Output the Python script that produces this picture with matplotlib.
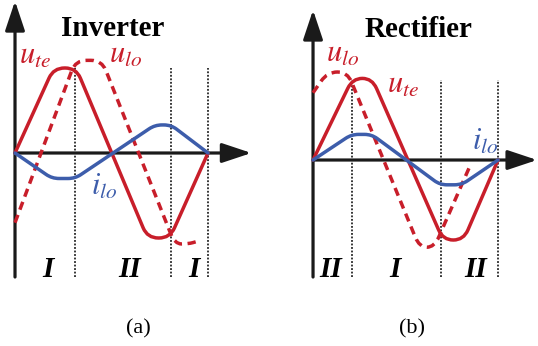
import numpy as np
import matplotlib
matplotlib.use("Agg")
import matplotlib.pyplot as plt
from matplotlib.path import Path
from matplotlib.patches import PathPatch

# phase in electrical degrees, values in per-unit
# (a) inverter
inv_ph_ute = [0, 72, 114, 247, 289, 360]
inv_ute = [0, 1.0, 1.0, -1.0, -1.0, 0]
inv_ph_ulo = [0, 113, 162, 298, 323, 340]
inv_ulo = [-0.82, 1.09, 1.09, -1.07, -1.07, -1.04]
inv_ph_ilo = [0, 69, 112, 261, 291, 360]
inv_ilo = [0, -0.30, -0.30, 0.33, 0.33, 0]
inv_bounds = [112, 291, 360]
inv_regions = ["I", "II", "I"]
inv_region_ph = [62, 214, 334]

# (b) rectifier
rec_ph_ute = [0, 77, 115, 253, 293, 360]
rec_ute = [0, 1.02, 1.02, -1.0, -1.0, 0]
rec_ph_ulo = [0, 28, 67, 207, 236, 305]
rec_ulo = [0.84, 1.10, 1.10, -1.09, -1.09, -0.08]
rec_ph_ilo = [0, 75, 114, 247, 289, 360]
rec_ilo = [0, 0.32, 0.32, -0.31, -0.31, 0]
rec_bounds = [76, 249, 360]
rec_regions = ["II", "I", "II"]
rec_region_ph = [35, 160, 317]

RED = "#c81e2a"
BLUE = "#3d5dab"
AXC = "#1a1a1a"

plt.rcParams["font.family"] = ["Liberation Serif", "DejaVu Serif"]
plt.rcParams["mathtext.fontset"] = "stix"

fig = plt.figure(figsize=(5.38, 3.46), dpi=100)
ax_a = fig.add_axes([0, 0.1618, 0.5, 0.8382])
ax_b = fig.add_axes([0.5019, 0.1618, 0.4981, 0.8382])
ax_a.set_xlim(-28, 473.8)
ax_a.set_ylim(-1.612, 1.8)
ax_b.set_xlim(-83.7, 437.8)
ax_b.set_ylim(-1.625, 2.0)


def rounded(ax, xs, ys, r):
    # polyline with corners rounded by quadratic curves (r in pixels)
    pts = ax.transData.transform(np.column_stack([xs, ys]))
    verts = [pts[0]]
    codes = [Path.MOVETO]
    for i in range(1, len(pts) - 1):
        p, c, n = pts[i - 1], pts[i], pts[i + 1]
        d1 = np.hypot(*(c - p))
        d2 = np.hypot(*(n - c))
        a = c + (p - c) * min(r, d1 / 2) / d1
        b = c + (n - c) * min(r, d2 / 2) / d2
        verts += [a, c, b]
        codes += [Path.LINETO, Path.CURVE3, Path.CURVE3]
    verts.append(pts[-1])
    codes.append(Path.LINETO)
    verts = ax.transData.inverted().transform(np.array(verts))
    return Path(verts, codes)


def panel(ax, ute, ulo, ilo, bounds, regions, region_ph, ymin, ytop, xtip,
          title, title_xy, lbl):
    ax.axis("off")
    for b in bounds:
        ax.plot([b, b], [ymin, 1.0], color="black", lw=1.1,
                linestyle=(0, (1.2, 1.1)), zorder=1)
    # axes arrows
    arr = dict(arrowstyle="-|>,head_length=0.9,head_width=0.3",
               mutation_scale=20, lw=2.3, color=AXC, shrinkA=0, shrinkB=0)
    ax.annotate("", xy=(0, ytop), xytext=(0, ymin), arrowprops=arr, zorder=2)
    ax.annotate("", xy=(xtip, 0), xytext=(0, 0), arrowprops=arr, zorder=2)

    ax.add_patch(PathPatch(rounded(ax, *ute, 11), fill=False, ec=RED, lw=2.5,
                           capstyle="round", joinstyle="round", zorder=3))
    ax.add_patch(PathPatch(rounded(ax, *ulo, 11), fill=False, ec=RED, lw=2.5,
                           linestyle=(0, (2.4, 1.6)), capstyle="butt",
                           joinstyle="round", zorder=3))
    ax.add_patch(PathPatch(rounded(ax, *ilo, 7), fill=False, ec=BLUE, lw=2.5,
                           capstyle="round", joinstyle="round", zorder=4))

    ax.text(*title_xy, title, ha="center", va="baseline", fontsize=21,
            fontweight="bold")
    for txt, xy, c in lbl:
        ax.text(*xy, txt, color=c, fontsize=22, ha="left", va="baseline")
    for txt, x in zip(regions, region_ph):
        ax.text(x, ymin, txt, ha="center", va="baseline", fontsize=21,
                fontweight="bold", fontstyle="italic")


panel(ax_a, (inv_ph_ute, inv_ute), (inv_ph_ulo, inv_ulo), (inv_ph_ilo, inv_ilo),
      inv_bounds, inv_regions, inv_region_ph, -1.459, 1.788, 441,
      "Inverter", (182, 1.376),
      [(r"$u_{te}$", (8, 1.047), RED), (r"$u_{lo}$", (176, 1.06), RED),
       (r"$i_{lo}$", (142, -0.494), BLUE)])

panel(ax_b, (rec_ph_ute, rec_ute), (rec_ph_ulo, rec_ulo), (rec_ph_ilo, rec_ilo),
      rec_bounds, rec_regions, rec_region_ph, -1.4625, 1.875, 436,
      "Rectifier", (205, 1.534),
      [(r"$u_{lo}$", (26, 1.225), RED), (r"$u_{te}$", (143, 0.84), RED),
       (r"$i_{lo}$", (310, 0.125), BLUE)])

fig.text(0.2565, 0.0376, "(a)", ha="center", va="baseline", fontsize=16)
fig.text(0.7667, 0.0376, "(b)", ha="center", va="baseline", fontsize=16)

fig.savefig("out.png", dpi=100)
